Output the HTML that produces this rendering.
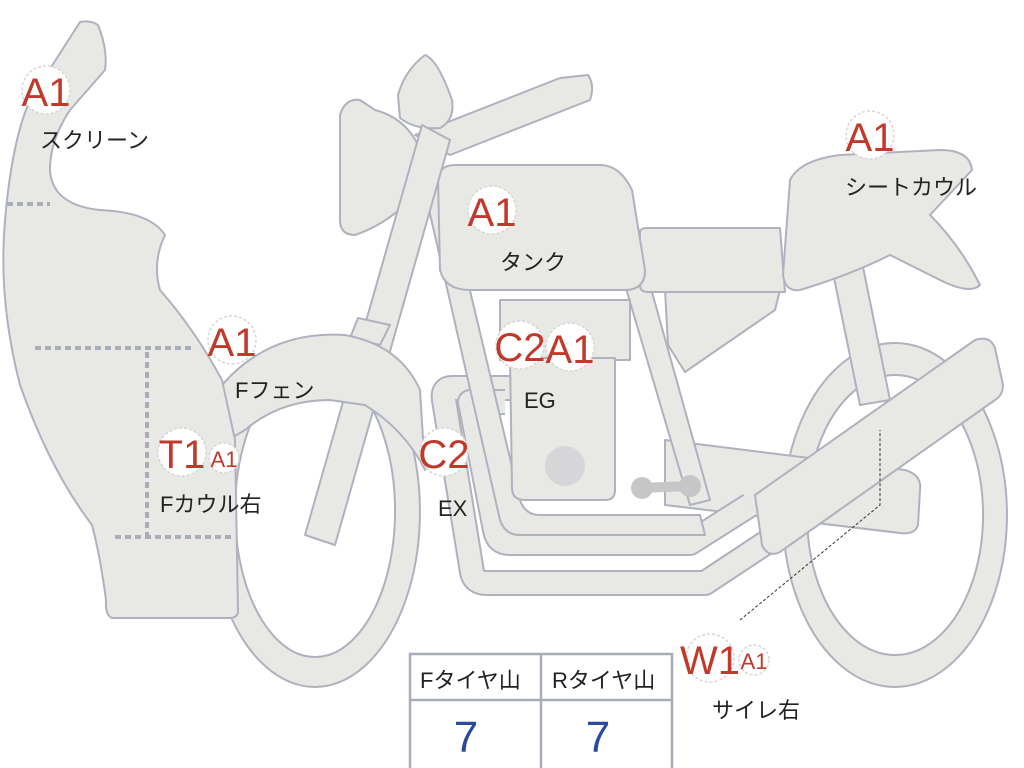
<!DOCTYPE html>
<html><head><meta charset="utf-8"><style>
html,body{margin:0;padding:0;background:#fff;}
svg{display:block;}
text{font-family:"Liberation Sans","Noto Sans CJK JP",sans-serif;}
.p{fill:#e8e8e4;stroke:#aeb2be;stroke-width:2;stroke-linejoin:round;}
.b{fill:#fff;stroke:#d6d6d6;stroke-width:1.5;stroke-dasharray:3 2;}
.r{fill:#c0392b;font-size:40px;text-anchor:middle;}
.rs{fill:#c0392b;font-size:22px;text-anchor:middle;}
.k{fill:#222;font-size:22px;}
.po{fill:none;stroke:#aeb2be;stroke-width:26;stroke-linejoin:round;}
.pi{fill:none;stroke:#e8e8e4;stroke-width:22;stroke-linejoin:round;}
</style></head><body>
<svg width="1024" height="768" viewBox="0 0 1024 768" xmlns="http://www.w3.org/2000/svg">
<!-- rear wheel -->
<path class="p" fill-rule="evenodd" d="M895,343 A112,172 0 1,1 894.9,343 Z M895,375 A88,140 0 1,0 895.1,375 Z"/>
<!-- front wheel -->
<path class="p" fill-rule="evenodd" d="M315,337 A105,175 0 1,1 314.9,337 Z M315,365 A80,146 0 1,0 315.1,365 Z"/>
<!-- swingarm -->
<path class="p" d="M665,440 L905,470 Q922,475 920,490 L918,525 Q915,535 900,533 L665,505 Z"/>
<!-- rear shock / frame -->
<path class="p" d="M832,268 L862,262 L890,400 L860,405 Z"/>
<!-- exhaust pipes -->
<path class="po" d="M510,388 L452,388 Q442,388 444,400 L472,572 Q474,583 487,583 L705,583 L770,540"/>
<path class="pi" d="M510,388 L452,388 Q442,388 444,400 L472,572 Q474,583 487,583 L705,583 L770,540"/>
<path class="po" d="M505,402 L470,402 L495,530 Q497,543 510,543 L690,543 L750,505"/>
<path class="pi" d="M505,402 L470,402 L495,530 Q497,543 510,543 L690,543 L750,505"/>
<!-- frame downtubes -->
<path class="p" d="M420,170 L440,165 L520,500 Q525,515 540,515 L700,515 L705,535 L520,535 Q505,535 500,520 Z"/>
<path class="p" d="M625,285 L650,285 L710,500 L690,505 Z"/>
<!-- engine -->
<path class="p" d="M500,300 L630,300 L630,360 L500,360 Z"/>
<path class="p" d="M510,358 L615,358 L615,490 Q615,500 605,500 L525,500 Q512,500 512,488 Z"/>
<circle cx="565" cy="466" r="20" fill="#d6d6d8"/>
<path d="M640,488 L690,486" stroke="#c6c6c8" stroke-width="10"/>
<circle cx="642" cy="488" r="11" fill="#c6c6c8"/><circle cx="690" cy="486" r="11" fill="#c6c6c8"/>
<!-- side cover -->
<path class="p" d="M665,290 L780,290 L775,310 L685,372 L668,345 Z"/>
<!-- seat -->
<path class="p" d="M640,232 Q640,228 648,228 L780,228 L785,292 L648,292 Q640,292 640,285 Z"/>
<!-- seat cowl -->
<path class="p" d="M790,180 Q800,160 840,155 L940,150 Q970,150 972,170 L930,215 Q960,245 980,285 Q970,295 940,280 L890,255 Q850,275 800,290 Q785,292 783,275 Z"/>
<!-- tank -->
<path class="p" d="M438,178 Q440,165 455,165 L600,165 Q620,165 632,190 L645,270 Q645,290 625,290 L470,290 Q445,290 440,270 Z"/>
<!-- handlebar -->
<path class="p" d="M415,135 L560,78 L588,75 Q595,85 590,100 L450,155 Z"/>
<!-- mirror -->
<path class="p" d="M398,95 Q405,70 425,55 Q438,60 452,100 Q455,120 440,128 Q415,130 400,118 Z"/>
<!-- headlight -->
<path class="p" d="M340,115 Q345,98 360,100 L375,110 Q405,118 418,145 Q425,170 410,200 Q385,225 355,235 Q340,235 340,220 Z"/>
<!-- fork -->
<path class="p" d="M422,125 L450,140 L335,545 L305,535 Z"/>
<path class="p" d="M358,318 L390,325 L380,345 L350,338 Z"/>
<!-- front fender -->
<path class="p" d="M222,385 Q270,330 345,335 Q400,345 420,390 L425,470 Q405,430 365,405 L330,400 Q280,400 245,430 L228,440 Z"/>
<!-- muffler -->
<path class="p" d="M755,495 L975,340 Q990,335 995,348 L1003,385 Q1003,395 995,400 L780,552 Q768,558 762,545 Z"/>
<!-- fairing -->
<path class="p" d="M80,22 Q90,20 98,25 Q108,50 105,70 L70,110 Q50,140 50,170 Q52,205 100,210 Q150,212 165,235 Q152,262 160,290 Q195,330 222,380 L235,440 L238,612 Q237,618 230,618 L112,618 Q105,615 106,600 Q100,555 92,525 Q50,470 20,385 Q-2,300 5,220 Q12,140 30,100 Z"/>
<g stroke="#a9adb8" stroke-width="4" stroke-dasharray="6 4" fill="none">
<path d="M7,204 L50,204"/><path d="M35,348 L195,348"/><path d="M147,352 L147,535"/><path d="M115,537 L235,537"/>
</g>
<!-- leader line -->
<path d="M740,620 L880,505 L880,430" stroke="#333" stroke-width="1" stroke-dasharray="3 2" fill="none"/>
<!-- badges -->
<circle class="b" cx="46" cy="90" r="24"/><text class="r" x="46" y="106">A1</text>
<text class="k" x="40" y="148">スクリーン</text>
<circle class="b" cx="232" cy="340" r="24"/><text class="r" x="232" y="356">A1</text>
<text class="k" x="235" y="398">Fフェン</text>
<circle class="b" cx="182" cy="452" r="24"/><text class="r" x="182" y="468">T1</text>
<circle class="b" cx="224" cy="458" r="15"/><text class="rs" x="224" y="467">A1</text>
<text class="k" x="160" y="512">Fカウル右</text>
<circle class="b" cx="444" cy="452" r="24"/><text class="r" x="444" y="468">C2</text>
<text class="k" x="438" y="516">EX</text>
<circle class="b" cx="520" cy="345" r="24"/><text class="r" x="520" y="361">C2</text>
<circle class="b" cx="570" cy="347" r="24"/><text class="r" x="570" y="363">A1</text>
<text class="k" x="524" y="408">EG</text>
<circle class="b" cx="492" cy="210" r="24"/><text class="r" x="492" y="226">A1</text>
<text class="k" x="500" y="270">タンク</text>
<circle class="b" cx="870" cy="135" r="24"/><text class="r" x="870" y="151">A1</text>
<text class="k" x="845" y="195">シートカウル</text>
<circle class="b" cx="710" cy="658" r="24"/><text class="r" x="710" y="674">W1</text>
<circle class="b" cx="754" cy="660" r="15"/><text class="rs" x="754" y="669">A1</text>
<text class="k" x="712" y="718">サイレ右</text>
<!-- table -->
<g fill="none" stroke="#a8acb8" stroke-width="2.5">
<rect x="410" y="654" width="262" height="120"/>
<path d="M410,700 L672,700 M541,654 L541,768"/>
</g>
<text class="k" x="420" y="688">Fタイヤ山</text>
<text class="k" x="552" y="688">Rタイヤ山</text>
<text x="466" y="752" fill="#2a4aa0" font-size="44" text-anchor="middle" style="font-family:'Liberation Sans',sans-serif">7</text>
<text x="598" y="752" fill="#2a4aa0" font-size="44" text-anchor="middle" style="font-family:'Liberation Sans',sans-serif">7</text>
</svg>
</body></html>
